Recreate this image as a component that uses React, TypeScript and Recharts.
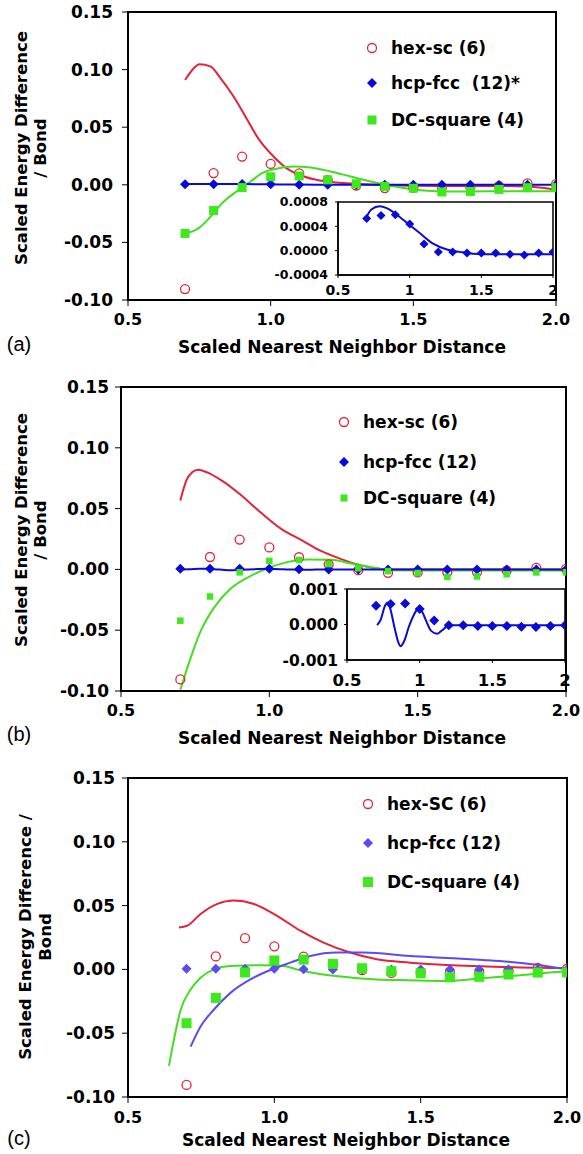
import React from 'react';
import { ComposedChart, Line, Scatter, XAxis, YAxis, ReferenceArea } from 'recharts';

// calculated points, same in all three panels
const distances = [0.7, 0.8, 0.9, 1.0, 1.1, 1.2, 1.3, 1.4, 1.5, 1.6, 1.7, 1.8, 1.9, 2.0];
const hexSc = [-0.0905, 0.0102, 0.0245, 0.0181, 0.0100, 0.0041, -0.0006, -0.0028, -0.0025, -0.0024, -0.0022, -0.0010, 0.0012, 0.0005];
const hcpFcc = [0.00053, 0.00058, 0.00059, 0.00044, 0.00011, -0.00002, -0.00002, -0.00004, -0.00004, -0.00004, -0.00006, -0.00007, -0.00004, -0.00002];
const dcSquare = [-0.0422, -0.0223, -0.0024, 0.0070, 0.0077, 0.0043, 0.0009, -0.0014, -0.0030, -0.0062, -0.0058, -0.0040, -0.0025, -0.0024];

const mainXTicks = [0.5, 1.0, 1.5, 2.0];
const mainYTicks = [-0.1, -0.05, 0, 0.05, 0.1, 0.15];
const insetXTicks = [0.5, 1, 1.5, 2];
const insetAYTicks = [-0.0004, 0, 0.0004, 0.0008];
const insetBYTicks = [-0.001, 0, 0.001];

// fitted curves, panel (a)
const redAX = [0.70, 0.73, 0.75, 0.79, 0.82, 0.87, 0.915, 0.96, 1.01, 1.055, 1.10, 1.16, 1.23, 1.30, 1.40, 1.50, 1.60, 1.70, 1.80, 1.90, 1.95, 2.0];
const redAY = [0.091, 0.101, 0.1046, 0.1026, 0.094, 0.0766, 0.0578, 0.039, 0.0246, 0.0145, 0.0087, 0.0043, 0.002, 0.0009, -0.0002, -0.0008, -0.001, -0.001, -0.001, -0.0015, -0.0025, -0.0043];
const greenAX = [0.70, 0.74, 0.79, 0.83, 0.88, 0.93, 0.97, 1.02, 1.08, 1.14, 1.21, 1.28, 1.35, 1.40, 1.45, 1.50, 1.55, 1.60, 1.70, 1.80, 1.90, 2.0];
const greenAY = [-0.042, -0.039, -0.0275, -0.0159, -0.0058, 0.0029, 0.0101, 0.0139, 0.0159, 0.015, 0.0116, 0.0072, 0.0029, 0.0, -0.0022, -0.004, -0.0052, -0.0058, -0.0058, -0.0056, -0.0055, -0.0055];
const blueAX = [0.70, 0.735, 0.79, 0.84, 0.91, 0.99, 1.07, 1.16, 1.26, 1.35, 1.44, 1.6, 1.8, 2.0];
const blueAY = [0.00056, 0.00068, 0.00073, 0.0007, 0.00059, 0.00044, 0.00029, 0.00012, 0.00002, -0.00002, -0.00005, -0.00006, -0.00006, -0.00006];

// panel (b)
const redBX = [0.70, 0.72, 0.74, 0.76, 0.79, 0.84, 0.90, 0.97, 1.04, 1.11, 1.17, 1.24, 1.31, 1.37, 1.40, 1.5, 1.6, 1.7, 1.8, 1.9, 2.0];
const redBY = [0.0566, 0.073, 0.0798, 0.082, 0.0798, 0.073, 0.062, 0.047, 0.0333, 0.0238, 0.0156, 0.0087, 0.0033, 0.0005, 0, 0, 0, 0, 0, 0, 0];
const greenBX = [0.70, 0.74, 0.77, 0.815, 0.87, 0.93, 0.99, 1.06, 1.13, 1.21, 1.28, 1.36, 1.41, 1.5, 1.6, 1.7, 1.8, 1.9, 2.0];
const greenBY = [-0.099, -0.069, -0.05, -0.031, -0.0158, -0.0063, 0.0005, 0.006, 0.0082, 0.0079, 0.0046, 0.0011, -0.0008, -0.001, -0.001, -0.001, -0.001, -0.001, -0.001];
const blueBX = [0.707, 0.73, 0.764, 0.78, 0.80, 0.826, 0.849, 0.868, 0.895, 0.925, 0.96, 0.994, 1.017, 1.047, 1.079, 1.121, 1.155, 1.19, 1.236, 1.4, 1.6, 1.8, 2.0];
const blueBY = [-0.00002, 0.00012, 0.00055, 0.00062, 0.00041, -0.00007, -0.00045, -0.00061, -0.00045, -0.00007, 0.00027, 0.00046, 0.00036, 0.00008, -0.00018, -0.00026, -0.00016, -0.00005, -0.00002, -0.00002, -0.00002, -0.00002, -0.00002];

// panel (c)
const redCX = [0.674, 0.702, 0.748, 0.805, 0.861, 0.93, 1.009, 1.089, 1.168, 1.259, 1.35, 1.464, 1.59, 1.71, 1.84, 1.95, 2.0];
const redCY = [0.0329, 0.0342, 0.0434, 0.0513, 0.054, 0.0513, 0.042, 0.0303, 0.021, 0.0132, 0.0079, 0.0053, 0.0034, 0.0024, 0.0015, 0.0011, 0.001];
const greenCX = [0.64, 0.657, 0.68, 0.714, 0.748, 0.793, 0.85, 0.952, 1.03, 1.077, 1.145, 1.236, 1.35, 1.46, 1.59, 1.71, 1.84, 1.966, 2.0];
const greenCY = [-0.0755, -0.055, -0.0316, -0.0158, -0.0066, 0.0, 0.0026, 0.0032, 0.0026, 0.0, -0.0032, -0.0058, -0.0079, -0.0085, -0.009, -0.007, -0.0045, -0.002, -0.0015];
const blueCX = [0.714, 0.748, 0.793, 0.85, 0.918, 0.986, 1.055, 1.123, 1.214, 1.305, 1.464, 1.59, 1.713, 1.80, 1.903, 2.0];
const blueCY = [-0.0605, -0.0447, -0.0316, -0.0184, -0.0079, -0.0005, 0.0053, 0.0105, 0.0132, 0.0132, 0.0105, 0.009, 0.0074, 0.006, 0.0034, 0.0];

const RED = '#e2243a';
const GREEN = '#44dd22';
const GREEN_PT = '#3de81c';
const BLUE = '#0a0ad8';
const BLUE_C = '#5a4cf0';
const FONT = '"DejaVu Sans", Verdana, sans-serif';

const pts = (xs: number[], ys: number[]) => xs.map((x, i) => ({ x, y: ys[i] }));

const circleShape = (color: string, r: number) => (p: any) =>
  <circle cx={p.cx} cy={p.cy} r={r} fill="none" stroke={color} strokeWidth={1.3} />;
const diamondShape = (color: string, r: number) => (p: any) =>
  <polygon points={`${p.cx},${p.cy - r} ${p.cx + r},${p.cy} ${p.cx},${p.cy + r} ${p.cx - r},${p.cy}`} fill={color} />;
const squareShape = (color: string, s: number) => (p: any) =>
  <rect x={p.cx - s / 2} y={p.cy - s / 2} width={s} height={s} fill={color} />;

interface PanelProps {
  top: number;
  height: number;
  margin: { top: number; right: number; bottom: number; left: number };
  yWidth: number;
  yTickMargin: number;
  xTickMargin: number;
  red: { x: number; y: number }[];
  green: { x: number; y: number }[];
  blue: { x: number; y: number }[];
  blueColor: string;
  squareSize: number;
}

function MainPanel(p: PanelProps) {
  const tickStyle = { fill: '#000', fontSize: 17, fontWeight: 'bold', fontFamily: FONT };
  return (
    <div style={{ position: 'absolute', left: 0, top: p.top }}>
      <ComposedChart width={583} height={p.height} margin={p.margin}>
        <XAxis type="number" dataKey="x" domain={[0.5, 2]} ticks={mainXTicks} allowDataOverflow
          tickFormatter={(v: number) => v.toFixed(1)} height={30} tickSize={6} tickMargin={p.xTickMargin}
          axisLine={{ stroke: '#000', strokeWidth: 2 }} tickLine={{ stroke: '#000' }}
          tick={{ ...tickStyle, fontSize: 16 }} interval={0} />
        <YAxis type="number" dataKey="y" domain={[-0.1, 0.15]} ticks={mainYTicks} allowDataOverflow
          tickFormatter={(v: number) => v.toFixed(2)} width={p.yWidth} tickSize={6} tickMargin={p.yTickMargin}
          axisLine={{ stroke: '#000', strokeWidth: 2 }} tickLine={{ stroke: '#000' }}
          tick={tickStyle} interval={0} />
        <ReferenceArea x1={0.5} x2={2} y1={-0.1} y2={0.15} fill="none" stroke="#000" strokeWidth={2} ifOverflow="visible" />
        <Line data={p.red} dataKey="y" type="monotone" stroke={RED} strokeWidth={2} dot={false} activeDot={false} isAnimationActive={false} />
        <Line data={p.green} dataKey="y" type="monotone" stroke={GREEN} strokeWidth={2} dot={false} activeDot={false} isAnimationActive={false} />
        <Line data={p.blue} dataKey="y" type="monotone" stroke={p.blueColor} strokeWidth={2} dot={false} activeDot={false} isAnimationActive={false} />
        <Scatter data={pts(distances, hexSc)} dataKey="y" shape={circleShape(RED, 4.5)} isAnimationActive={false} />
        <Scatter data={pts(distances, hcpFcc)} dataKey="y" shape={diamondShape(p.blueColor, 5)} isAnimationActive={false} />
        <Scatter data={pts(distances, dcSquare)} dataKey="y" shape={squareShape(GREEN_PT, p.squareSize)} isAnimationActive={false} />
      </ComposedChart>
    </div>
  );
}

interface InsetProps {
  left: number;
  top: number;
  width: number;
  height: number;
  margin: { top: number; right: number; bottom: number; left: number };
  yWidth: number;
  yDomain: number[];
  yTicks: number[];
  yDigits: number;
  yFont: number;
  xFont: number;
  xHeight: number;
  xTickMargin: number;
  yTickMargin: number;
  line: { x: number; y: number }[];
  markerSize: number;
}

function Inset(p: InsetProps) {
  const plotLeft = p.left + p.margin.left + p.yWidth;
  const plotTop = p.top + p.margin.top;
  const plotW = p.width - p.margin.left - p.margin.right - p.yWidth;
  const plotH = p.height - p.margin.top - p.margin.bottom - p.xHeight;
  const tickStyle = { fill: '#000', fontWeight: 'bold', fontFamily: FONT };
  return (
    <>
      <div style={{ position: 'absolute', left: plotLeft, top: plotTop, width: plotW, height: plotH, background: '#fff' }} />
      <div style={{ position: 'absolute', left: p.left, top: p.top }}>
        <ComposedChart width={p.width} height={p.height} margin={p.margin}>
          <XAxis type="number" dataKey="x" domain={[0.5, 2]} ticks={insetXTicks} allowDataOverflow
            height={p.xHeight} tickSize={3} tickMargin={p.xTickMargin}
            axisLine={{ stroke: '#000', strokeWidth: 1.5 }} tickLine={{ stroke: '#000' }}
            tick={{ ...tickStyle, fontSize: p.xFont }} interval={0} />
          <YAxis type="number" dataKey="y" domain={p.yDomain} ticks={p.yTicks} allowDataOverflow
            tickFormatter={(v: number) => v.toFixed(p.yDigits)} width={p.yWidth} tickSize={3} tickMargin={p.yTickMargin}
            axisLine={{ stroke: '#000', strokeWidth: 1.5 }} tickLine={{ stroke: '#000' }}
            tick={{ ...tickStyle, fontSize: p.yFont }} interval={0} />
          <ReferenceArea x1={0.5} x2={2} y1={p.yDomain[0]} y2={p.yDomain[1]} fill="none" stroke="#000" strokeWidth={1.5} ifOverflow="visible" />
          <Line data={p.line} dataKey="y" type="monotone" stroke={BLUE} strokeWidth={2} dot={false} activeDot={false} isAnimationActive={false} />
          <Scatter data={pts(distances, hcpFcc)} dataKey="y" shape={diamondShape(BLUE, p.markerSize)} isAnimationActive={false} />
        </ComposedChart>
      </div>
    </>
  );
}

const legendNames = [
  ['hex-sc (6)', 'hcp-fcc  (12)*', 'DC-square (4)'],
  ['hex-sc (6)', 'hcp-fcc (12)', 'DC-square (4)'],
  ['hex-SC (6)', 'hcp-fcc (12)', 'DC-square (4)'],
];

function LegendBlock({ x, ys, names, blue, sq }: { x: number; ys: number[]; names: string[]; blue: string; sq: number }) {
  const tx = x + 19;
  return (
    <g>
      <circle cx={x} cy={ys[0]} r={4.5} fill="none" stroke={RED} strokeWidth={1.3} />
      <polygon points={`${x},${ys[1] - 5} ${x + 5},${ys[1]} ${x},${ys[1] + 5} ${x - 5},${ys[1]}`} fill={blue} />
      <rect x={x - sq / 2} y={ys[2] - sq / 2} width={sq} height={sq} fill={GREEN_PT} />
      {names.map((n, i) => (
        <text key={n} x={tx} y={ys[i]} dominantBaseline="central" fontSize={17} fontWeight="bold" fontFamily={FONT} style={{ whiteSpace: 'pre' }}>{n}</text>
      ))}
    </g>
  );
}

function Overlay() {
  const bold = { fontWeight: 'bold', fontFamily: FONT } as const;
  const yTitle = (cx1: number, cx2: number, cy: number, l1: string, l2: string) => (
    <g>
      <text transform={`translate(${cx1},${cy}) rotate(-90)`} textAnchor="middle" dominantBaseline="central" fontSize={16.5} {...bold}>{l1}</text>
      <text transform={`translate(${cx2},${cy}) rotate(-90)`} textAnchor="middle" dominantBaseline="central" fontSize={16.5} {...bold}>{l2}</text>
    </g>
  );
  const xTitle = (cx: number, cy: number) => (
    <text x={cx} y={cy} textAnchor="middle" dominantBaseline="central" fontSize={17} {...bold}>Scaled Nearest Neighbor Distance</text>
  );
  const tag = (t: string, cy: number) => (
    <text x={19} y={cy} textAnchor="middle" dominantBaseline="central" fontSize={20} fontFamily='"Liberation Sans", Arial, sans-serif'>{t}</text>
  );
  return (
    <svg width={583} height={1154} style={{ position: 'absolute', left: 0, top: 0, pointerEvents: 'none' }}>
      {yTitle(21, 40, 148, 'Scaled Energy Difference', '/ Bond')}
      {yTitle(21, 40, 530, 'Scaled Energy Difference', '/ Bond')}
      {yTitle(25, 45, 937, 'Scaled Energy Difference /', 'Bond')}
      {xTitle(342, 347)}
      {xTitle(342, 738)}
      {xTitle(346, 1140)}
      {tag('(a)', 344)}
      {tag('(b)', 734)}
      {tag('(c)', 1138)}
      <LegendBlock x={372} ys={[48, 83, 120]} names={legendNames[0]} blue={BLUE} sq={9} />
      <LegendBlock x={344} ys={[422, 462, 498]} names={legendNames[1]} blue={BLUE} sq={7} />
      <LegendBlock x={368} ys={[804, 843, 882]} names={legendNames[2]} blue={BLUE_C} sq={10} />
    </svg>
  );
}

export default function App() {
  return (
    <div style={{ position: 'absolute', left: 0, top: 0, width: 583, height: 1154, background: '#fff', overflow: 'hidden' }}>
      <MainPanel top={0} height={360} margin={{ top: 12, right: 27, bottom: 30, left: 0 }} yWidth={128}
        yTickMargin={9} xTickMargin={8} red={pts(redAX, redAY)} green={pts(greenAX, greenAY)}
        blue={pts(blueAX, blueAY)} blueColor={BLUE} squareSize={9} />
      <MainPanel top={370} height={380} margin={{ top: 17, right: 17, bottom: 29, left: 0 }} yWidth={121}
        yTickMargin={6} xTickMargin={8} red={pts(redBX, redBY)} green={pts(greenBX, greenBY)}
        blue={pts(blueBX, blueBY)} blueColor={BLUE} squareSize={6.5} />
      <MainPanel top={760} height={394} margin={{ top: 18, right: 16, bottom: 27, left: 0 }} yWidth={128}
        yTickMargin={7} xTickMargin={9} red={pts(redCX, redCY)} green={pts(greenCX, greenCY)}
        blue={pts(blueCX, blueCY)} blueColor={BLUE_C} squareSize={10} />
      <Inset left={270} top={195} width={300} height={110} margin={{ top: 7, right: 17, bottom: 5, left: 0 }}
        yWidth={68} yDomain={[-0.0004, 0.0008]} yTicks={insetAYTicks} yDigits={4} yFont={12.5} xFont={14}
        xHeight={25} xTickMargin={7} yTickMargin={7} line={pts(blueAX, blueAY)} markerSize={4.5} />
      <Inset left={270} top={580} width={310} height={120} margin={{ top: 9, right: 15, bottom: 10, left: 0 }}
        yWidth={77} yDomain={[-0.001, 0.001]} yTicks={insetBYTicks} yDigits={3} yFont={15.5} xFont={16.5}
        xHeight={30} xTickMargin={11} yTickMargin={6} line={pts(blueBX, blueBY)} markerSize={5} />
      <Overlay />
    </div>
  );
}
